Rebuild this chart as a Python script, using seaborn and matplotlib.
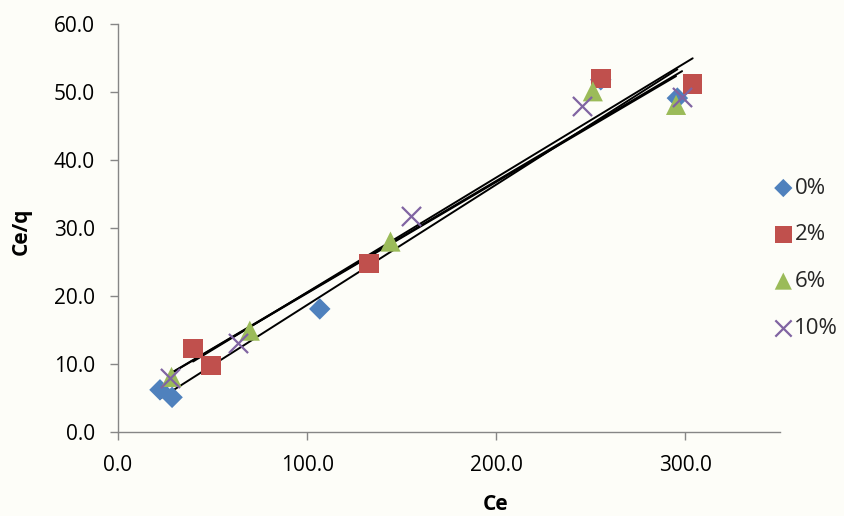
import numpy as np
import pandas as pd
import matplotlib
matplotlib.use("Agg")
import matplotlib.pyplot as plt
import seaborn as sns

# Adsorption isotherm data (Ce vs Ce/q) for each additive level
series_names = ["0%", "2%", "6%", "10%"]
ce_0 = [22.2, 28.6, 106.7, 255.3, 295.8]
ceq_0 = [6.2, 5.1, 18.1, 51.8, 49.1]
ce_2 = [39.7, 49.1, 132.8, 255.3, 303.9]
ceq_2 = [12.3, 9.8, 24.8, 52.0, 51.2]
ce_6 = [28.3, 69.7, 144.1, 251.1, 295.1]
ceq_6 = [8.1, 14.9, 28.0, 50.1, 48.1]
ce_10 = [27.5, 63.2, 155.1, 245.3, 298.3]
ceq_10 = [7.9, 13.1, 31.7, 48.0, 49.3]

x_ticks = [0, 100, 200, 300]
y_ticks = [0, 10, 20, 30, 40, 50, 60]

colors = ["#4F81BD", "#C0504D", "#9BBB59", "#8064A2"]
markers = ["D", "s", "^", "x"]
sizes = [120, 200, 210, 190]

frames = []
for name, xs, ys in zip(series_names, [ce_0, ce_2, ce_6, ce_10], [ceq_0, ceq_2, ceq_6, ceq_10]):
    frames.append(pd.DataFrame({"Ce": xs, "Ce/q": ys, "series": name}))
df = pd.concat(frames, ignore_index=True)

sns.set_theme(style="white")
plt.rcParams["font.family"] = ["Open Sans", "DejaVu Sans"]

bg = "#fdfdf8"
fig = plt.figure(figsize=(8.44, 5.16), dpi=100, facecolor=bg)
ax = fig.add_axes([0.1398, 0.1628, 0.924 - 0.1398, 0.9535 - 0.1628], facecolor=bg)

# Linear trend line per series
for name in series_names:
    sub = df[df["series"] == name]
    sns.regplot(data=sub, x="Ce", y="Ce/q", ax=ax, scatter=False, ci=None,
                truncate=True, color="black", line_kws={"linewidth": 1.4})

for name, c, m, s in zip(series_names, colors, markers, sizes):
    sub = df[df["series"] == name]
    kw = dict(linewidth=1.6) if m == "x" else dict(edgecolor="none")
    sns.scatterplot(data=sub, x="Ce", y="Ce/q", ax=ax, color=c, marker=m, s=s,
                    label=name, zorder=3, **kw)

ax.set_xlim(0, 350)
ax.set_ylim(0, 60)
ax.set_xticks(x_ticks)
ax.set_yticks(y_ticks)
ax.set_xticklabels([f"{v:.1f}" for v in x_ticks], fontsize=15)
ax.set_yticklabels([f"{v:.1f}" for v in y_ticks], fontsize=15)
ax.tick_params(axis="both", direction="out", length=5.5, width=1, color="#868686",
               bottom=True, left=True, pad=11, labelcolor="black")

for side in ["top", "right"]:
    ax.spines[side].set_visible(False)
for side in ["left", "bottom"]:
    ax.spines[side].set_color("#868686")
    ax.spines[side].set_linewidth(1)

ax.set_xlabel("Ce", fontsize=15, fontweight="bold", color="black")
ax.set_ylabel("Ce/q", fontsize=15, fontweight="bold", color="black")
ax.xaxis.set_label_coords(0.571, -0.152)
ax.yaxis.set_label_coords(-0.13, 0.493)

leg = ax.legend(loc="center left", bbox_to_anchor=(0.975, 0.426), frameon=False,
                fontsize=16, handletextpad=0.0, labelspacing=1.15,
                markerscale=0.85, handlelength=1.0, borderaxespad=0.0)

fig.savefig("out.png", dpi=100, facecolor=bg)
